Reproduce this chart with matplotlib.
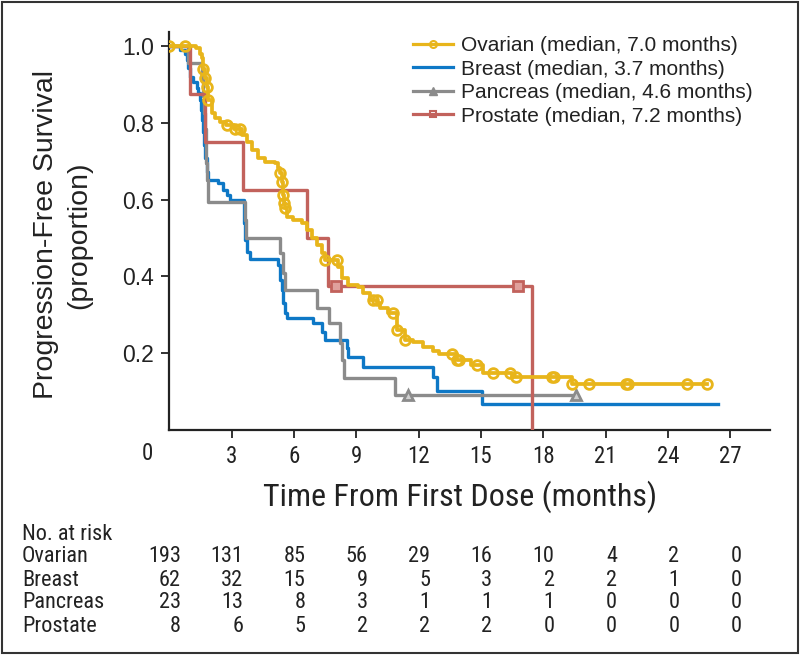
import numpy as np
import matplotlib
matplotlib.use("Agg")
import matplotlib.pyplot as plt
from matplotlib.lines import Line2D
from matplotlib.patches import Rectangle
from matplotlib.transforms import blended_transform_factory

# Kaplan-Meier step data (time in months, proportion)
ovarian_t = [0, 1.30, 1.47, 1.56, 1.62, 1.71, 1.80, 1.87, 2.04, 2.20, 2.44, 2.70, 3.10,
             3.50, 3.72, 3.96, 4.28, 4.60, 5.08, 5.24, 5.33, 5.41, 5.47, 5.52, 5.57, 5.65,
             5.95, 6.37, 6.61, 6.85, 7.09, 7.33, 7.50, 8.10, 8.30, 8.60, 9.08, 9.32, 9.66,
             10.00, 10.14, 10.52, 10.94, 11.34, 11.73, 12.20, 12.70, 13.00, 13.85, 14.50,
             15.10, 16.50, 19.40, 25.90]
ovarian_s = [1.0, 0.994, 0.98, 0.968, 0.94, 0.916, 0.894, 0.86, 0.825, 0.812, 0.803, 0.794,
             0.785, 0.768, 0.751, 0.729, 0.707, 0.699, 0.695, 0.681, 0.669, 0.646, 0.612,
             0.59, 0.577, 0.555, 0.546, 0.538, 0.52, 0.50, 0.481, 0.46, 0.442, 0.425, 0.395,
             0.377, 0.373, 0.356, 0.338, 0.33, 0.317, 0.304, 0.26, 0.234, 0.228, 0.216,
             0.205, 0.197, 0.182, 0.169, 0.147, 0.137, 0.12, 0.12]
ovarian_cens = [0, 0.75, 1.62, 1.71, 1.80, 1.87, 2.76, 3.16, 3.40, 5.33, 5.41, 5.47, 5.52,
                5.57, 7.50, 8.05, 9.80, 9.98, 10.77, 10.95, 11.34, 13.60, 13.85, 13.95,
                14.80, 15.60, 16.40, 16.70, 18.40, 18.50, 19.40, 20.20, 22.00, 22.10,
                24.90, 25.90]

breast_t = [0, 0.50, 0.75, 0.83, 0.91, 1.00, 1.15, 1.31, 1.39, 1.47, 1.52, 1.56, 1.63,
            1.67, 1.71, 1.80, 1.87, 2.35, 2.60, 2.76, 2.90, 3.60, 3.65, 3.72, 3.88, 5.23,
            5.33, 5.41, 5.47, 5.57, 5.65, 6.90, 7.33, 7.49, 8.54, 8.60, 9.32, 12.68, 12.88,
            15.05, 26.40]
breast_s = [1.0, 0.99, 0.98, 0.963, 0.943, 0.92, 0.907, 0.89, 0.877, 0.86, 0.833, 0.807,
            0.777, 0.742, 0.708, 0.672, 0.651, 0.642, 0.625, 0.612, 0.598, 0.54, 0.494,
            0.463, 0.444, 0.429, 0.39, 0.364, 0.33, 0.304, 0.291, 0.278, 0.255, 0.234,
            0.213, 0.19, 0.164, 0.137, 0.10, 0.067, 0.067]

pancreas_t = [0, 0.91, 1.56, 1.62, 1.66, 1.70, 1.74, 1.78, 1.82, 1.86, 3.64, 3.70, 5.33,
              5.47, 5.55, 7.10, 7.70, 8.20, 8.30, 8.40, 10.86, 19.60]
pancreas_s = [1.0, 0.957, 0.913, 0.870, 0.826, 0.783, 0.739, 0.696, 0.652, 0.594, 0.546,
              0.50, 0.46, 0.408, 0.364, 0.317, 0.278, 0.226, 0.182, 0.135, 0.091, 0.091]
pancreas_cens = [11.5, 19.6]

prostate_t = [0, 0.99, 1.71, 3.56, 6.61, 7.65, 17.45]
prostate_s = [1.0, 0.875, 0.75, 0.625, 0.50, 0.375, 0.0]
prostate_cens = [8.02, 16.8]

labels = ["Ovarian (median, 7.0 months)", "Breast (median, 3.7 months)",
          "Pancreas (median, 4.6 months)", "Prostate (median, 7.2 months)"]
colors = ["#E8B51B", "#0E78C6", "#8B8B8B", "#C2625C"]

# number at risk table
risk_times = [0, 3, 6, 9, 12, 15, 18, 21, 24, 27]
risk_groups = ["Ovarian", "Breast", "Pancreas", "Prostate"]
ovarian_risk = [193, 131, 85, 56, 29, 16, 10, 4, 2, 0]
breast_risk = [62, 32, 15, 9, 5, 3, 2, 2, 1, 0]
pancreas_risk = [23, 13, 8, 3, 1, 1, 1, 0, 0, 0]
prostate_risk = [8, 6, 5, 2, 2, 2, 0, 0, 0, 0]

NORMAL = ["Liberation Sans", "DejaVu Sans"]
NARROW = ["Roboto Condensed", "Liberation Sans"]


def step_value(t, s, x):
    i = np.searchsorted(t, x, side="right") - 1
    return np.asarray(s)[i]


fig = plt.figure(figsize=(8, 6.56), dpi=100)
ax = fig.add_axes([0.2118, 0.3449, 0.7507, 0.6063])

lw = 2.4
ax.step(breast_t, breast_s, where="post", color=colors[1], lw=lw, zorder=3)
ax.step(pancreas_t, pancreas_s, where="post", color=colors[2], lw=lw, zorder=4)
ax.plot(pancreas_cens, step_value(pancreas_t, pancreas_s, pancreas_cens), ls="none",
        marker="^", ms=7, mfc="#d0d0d0", mec=colors[2], mew=2, zorder=4)
ax.step(prostate_t, prostate_s, where="post", color=colors[3], lw=lw, zorder=5)
ax.plot(prostate_cens, step_value(prostate_t, prostate_s, prostate_cens), ls="none",
        marker="s", ms=6.5, mfc="#e0a09c", mec=colors[3], mew=2, zorder=5)
ax.step(ovarian_t, ovarian_s, where="post", color=colors[0], lw=2.7, zorder=6)
ax.plot(ovarian_cens, step_value(ovarian_t, ovarian_s, ovarian_cens), ls="none",
        marker="o", ms=7, mfc="none", mec=colors[0], mew=2.0, zorder=6)

ax.set_xlim(0, 28.92)
ax.set_ylim(0, 1.0365)
ax.spines["top"].set_visible(False)
ax.spines["right"].set_visible(False)
for side in ["left", "bottom"]:
    ax.spines[side].set_linewidth(1.6)
    ax.spines[side].set_color("#222222")

ax.set_xticks(risk_times[1:])
ax.set_xticklabels([str(t) for t in risk_times[1:]], family=NARROW, fontsize=16.5)
ax.set_yticks([0.2, 0.4, 0.6, 0.8, 1.0])
ax.set_yticklabels(["0.2", "0.4", "0.6", "0.8", "1.0"], family=NORMAL, fontsize=16.5)
ax.tick_params(axis="both", direction="out", length=6, width=1.3, color="#222222",
               labelcolor="#222222")
ax.tick_params(axis="x", pad=5)
ax.tick_params(axis="y", pad=5)

fig.text(147 / 800, 1 - 453 / 656, "0", ha="center", va="center", family=NARROW,
         fontsize=16.5, color="#222222")

fig.text(63 / 800, 1 - 235 / 656, "Progression-Free Survival\n(proportion)", rotation=90,
         ha="center", va="center", multialignment="center", linespacing=1.35,
         family=NORMAL, fontsize=20.5, color="#222222")
fig.text(460 / 800, 1 - 497 / 656, "Time From First Dose (months)", ha="center",
         va="center", family=NARROW, fontsize=23, color="#222222")

handles = [
    Line2D([], [], color=colors[0], lw=2.3, marker="o", ms=5, mfc="none", mec=colors[0], mew=1.5),
    Line2D([], [], color=colors[1], lw=2.3),
    Line2D([], [], color=colors[2], lw=2.3, marker="^", ms=6, mfc=colors[2], mec=colors[2]),
    Line2D([], [], color=colors[3], lw=2.3, marker="s", ms=5, mfc="none", mec=colors[3], mew=1.5),
]
fig.legend(handles, labels, loc="upper left", bbox_to_anchor=(413 / 800, 1 - 36 / 656),
           frameon=False, borderpad=0, borderaxespad=0, handlelength=1.9,
           handletextpad=0.4, labelspacing=0.22, numpoints=1,
           prop={"family": NORMAL, "size": 15}, labelcolor="#222222")

# number at risk
trans = blended_transform_factory(ax.transData, fig.transFigure)
rows = [ovarian_risk, breast_risk, pancreas_risk, prostate_risk]
row_y = [557, 580, 603, 626]
fig.text(22 / 800, 1 - 535 / 656, "No. at risk", ha="left", va="center", family=NARROW,
         fontsize=16, color="#222222")
for name, vals, yp in zip(risk_groups, rows, row_y):
    fig.text(22 / 800, 1 - yp / 656, name, ha="left", va="center", family=NARROW,
             fontsize=16, color="#222222")
    for t, v in zip(risk_times, vals):
        ax.text(t + 0.55, 1 - yp / 656, str(v), transform=trans, ha="right", va="center",
                family=NARROW, fontsize=16, color="#222222", clip_on=False)

fig.patches.append(Rectangle((0.002, 0.004), 0.996, 0.993, transform=fig.transFigure,
                             fill=False, lw=1.5, edgecolor="#333333"))

fig.savefig("out.png", dpi=100)
